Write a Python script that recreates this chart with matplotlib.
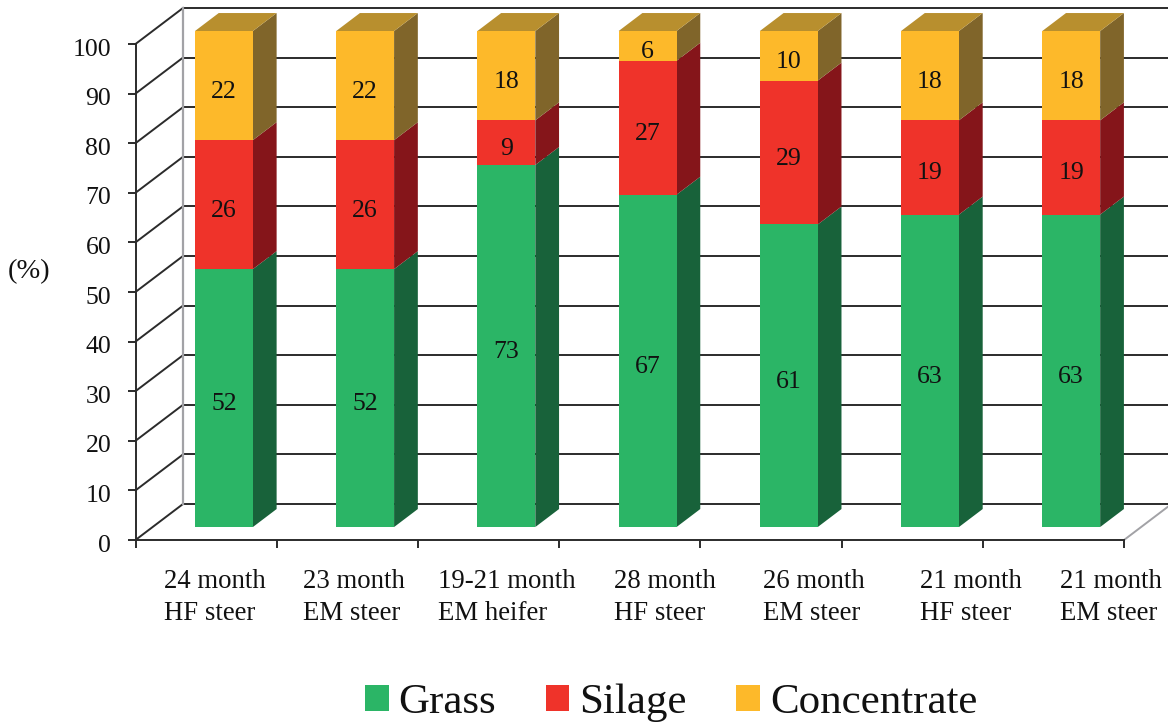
import matplotlib
matplotlib.use('Agg')
import matplotlib.pyplot as plt
from matplotlib.transforms import ScaledTranslation
import numpy as np

categories = ['24 month\nHF steer', '23 month\nEM steer', '19-21 month\nEM heifer', '28 month\nHF steer',
              '26 month\nEM steer', '21 month\nHF steer', '21 month\nEM steer']
grass = [52, 52, 73, 67, 61, 63, 63]
silage = [26, 26, 9, 27, 29, 19, 19]
concentrate = [22, 22, 18, 6, 10, 18, 18]
series_names = ['Grass', 'Silage', 'Concentrate']
yticks = list(range(0, 101, 10))

front_colors = ['#2bb566', '#ef332a', '#fdb92a']
side_colors = ['#18623a', '#85151a', '#80652a']
top_color = '#b88f2e'
line_color = '#2b2b2b'
wall_color = '#a2a2a6'

plt.rcParams['font.family'] = ['Liberation Serif', 'DejaVu Serif']

W, H = 1168, 723
fig = plt.figure(figsize=(W / 100, H / 100), dpi=100)
ax = fig.add_axes([135.5 / W, 1 - 540 / H, (1124 - 135.5) / W, (540 - 44) / H])
ax.set_xlim(0, 7)
ax.set_ylim(0, 100)

# depth of the fake 3d box, in data units
depth_x = 47.5 / 141.2
depth_y = 36 / 4.96
bar_front = 0.375
bar_depth = 0.5
bar_width = 0.41


def shift(x, y, d):
    return x + d * depth_x, y + d * depth_y


# back wall and floor
for v in yticks:
    x0, y0 = shift(0, v, 1)
    x1, y1 = shift(7, v, 1)
    ax.plot([x0, x1], [y0, y1], color=line_color, lw=1.4, clip_on=False, zorder=1, solid_capstyle='butt')
    ax.plot([0, x0], [v, y0], color=line_color, lw=1.4, clip_on=False, zorder=1)
x0, y0 = shift(0, 0, 1)
x1, y1 = shift(0, 100, 1)
ax.plot([x0, x1], [y0, y1], color=wall_color, lw=1.6, clip_on=False, zorder=1.5)
x1, y1 = shift(7, 0, 1)
ax.plot([7, x1], [0, y1], color=wall_color, lw=1.4, clip_on=False, zorder=1.5)

x = np.arange(len(categories)) + 0.5
fx, _ = shift(x, 0, bar_front)
_, fy = shift(x, 0, 0.36)
bottom = np.zeros(len(categories))
handles = []
for name, vals, fc, sc in zip(series_names, [grass, silage, concentrate], front_colors, side_colors):
    vals = np.array(vals)
    bars = ax.bar(fx, vals, bar_width, bottom=bottom + fy, color=fc, label=name, zorder=3, clip_on=False)
    handles.append(bars)
    for i in range(len(x)):
        xr = fx[i] + bar_width / 2
        yb = bottom[i] + fy
        yt = yb + vals[i]
        dx = bar_depth * depth_x
        dy = bar_depth * depth_y
        ax.fill([xr, xr + dx, xr + dx, xr], [yb, yb + dy, yt + dy, yt], color=sc, lw=0, zorder=2.5, clip_on=False)
        ax.text(fx[i], (yb + yt) / 2 - 1.2, str(vals[i]), ha='center', va='center', fontsize=18.5,
                color='#111111', zorder=4)
    bottom = bottom + vals

# top faces
for i in range(len(x)):
    xl = fx[i] - bar_width / 2
    xr = fx[i] + bar_width / 2
    yt = bottom[i] + fy
    dx = bar_depth * depth_x
    dy = bar_depth * depth_y
    ax.fill([xl, xr, xr + dx, xl + dx], [yt, yt, yt + dy, yt + dy], color=top_color, lw=0, zorder=2.5, clip_on=False)

# axes
for s in ['top', 'right']:
    ax.spines[s].set_visible(False)
for s in ['left', 'bottom']:
    ax.spines[s].set_color(line_color)
    ax.spines[s].set_linewidth(1.4)
    ax.spines[s].set_zorder(2)
ax.patch.set_alpha(0)
ax.set_yticks(yticks)
ax.set_xticks(range(8))
ax.set_xticklabels([])
ax.tick_params(axis='y', length=5.5, width=1.4, color=line_color, labelsize=18.5, pad=12, labelcolor='#111111')
ax.tick_params(axis='x', length=5.5, width=1.4, color=line_color)
for lab in ax.get_yticklabels():
    lab.set_transform(lab.get_transform() + ScaledTranslation(0, -3 / 100, fig.dpi_scale_trans))

# category labels are not evenly placed in the original
label_left = [164, 303, 438, 614, 763, 920, 1060]
for lx, c in zip(label_left, categories):
    fig.text(lx / W, 1 - 597.5 / H, c, ha='left', va='center', fontsize=19.3, linespacing=1.42, color='#111111')

fig.text(29 / W, 1 - 272 / H, '(%)', ha='center', va='center', fontsize=20.5, color='#111111')

fig.legend(handles=handles, labels=series_names, loc='center', bbox_to_anchor=(671 / W, 1 - 703 / H), ncols=3,
           frameon=False, fontsize=31, handlelength=0.55, handleheight=0.55, handletextpad=0.23,
           columnspacing=1.15, labelcolor='#111111', borderpad=0, borderaxespad=0)

fig.savefig('out.png', dpi=100)
